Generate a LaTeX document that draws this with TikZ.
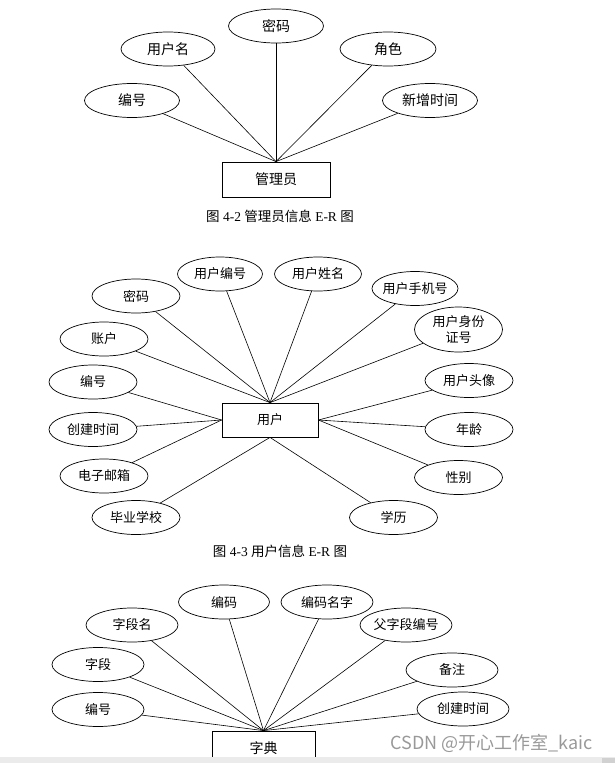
\documentclass[tikz,border=0pt]{standalone}
\usepackage{fontspec}
\setmainfont{Liberation Serif}
\newfontfamily\cjk{Noto Sans CJK SC}
\usetikzlibrary{shapes.geometric}

\begin{document}
\begin{tikzpicture}[
    x=1pt, y=-1pt,
    attr/.style={
        ellipse, draw, line width=0.7pt, inner xsep=-4pt, inner ysep=0pt,
        text centered, minimum width=88pt, minimum height=34pt,
        font=\cjk\fontsize{13}{16}\selectfont
    },
    ent/.style={
        rectangle, draw, line width=0.8pt,
        text centered, minimum width=100pt, minimum height=35pt,
        font=\cjk\fontsize{14}{16}\selectfont
    },
    figcap/.style={font=\fontsize{13.5}{16}\selectfont},
    link/.style={line width=0.6pt},
]
\useasboundingbox (0,0) rectangle (615,763);

\node[ent, minimum width=108pt] (gly) at (276,179.5) {管理员};
\node[attr, minimum width=95pt, font=\cjk\fontsize{14}{16}\selectfont] (mm1) at (276,26) {密码};
\node[attr, minimum width=94pt, font=\cjk\fontsize{14}{16}\selectfont] (yhm1) at (168,49) {用户名};
\node[attr, minimum width=96pt, font=\cjk\fontsize{14}{16}\selectfont] (js1) at (388,49) {角色};
\node[attr, minimum width=95pt, font=\cjk\fontsize{14}{16}\selectfont] (bh1) at (132,100.5) {编号};
\node[attr, minimum width=95pt, font=\cjk\fontsize{14}{16}\selectfont] (xzsj1) at (430,100.5) {新增时间};
\node[figcap] (cap1) at (280,216) {{\cjk 图} 4-2 {\cjk 管理员信息} E-R {\cjk 图}};
\draw[link] (bh1) -- (gly.north);
\draw[link] (yhm1) -- (gly.north);
\draw[link] (mm1) -- (gly.north);
\draw[link] (js1) -- (gly.north);
\draw[link] (xzsj1) -- (gly.north);

\node[ent, minimum width=96pt, minimum height=34pt, font=\cjk\fontsize{13}{16}\selectfont] (yh) at (270,420) {用户};
\node[attr, minimum width=85pt] (yhbh2) at (220,274) {用户编号};
\node[attr, minimum width=87pt] (yhxm2) at (318,274) {用户姓名};
\node[attr] (mm2) at (136,296) {密码};
\node[attr] (zh2) at (104,339) {账户};
\node[attr] (bh2) at (93,382) {编号};
\node[attr] (cjsj2) at (93,429.5) {创建时间};
\node[attr] (dzyx2) at (104,476) {电子邮箱};
\node[attr] (byxx2) at (136,517.5) {毕业学校};
\node[attr, minimum width=86pt] (yhsjh2) at (415,288.5) {用户手机号};
\node[attr, minimum height=45pt, align=center] (yhsfzh2) at (458.5,329.5) {用户身份\\证号};
\node[attr] (yhtx2) at (469,380.5) {用户头像};
\node[attr] (nl2) at (469,429.5) {年龄};
\node[attr] (xb2) at (458.5,477.5) {性别};
\node[attr] (xl2) at (393.5,517.5) {学历};
\node[figcap] (cap2) at (280,551) {{\cjk 图} 4-3 {\cjk 用户信息} E-R {\cjk 图}};
\draw[link] (mm2) -- (yh.north);
\draw[link] (zh2) -- (yh.north);
\draw[link] (yhbh2) -- (yh.north);
\draw[link] (yhxm2) -- (yh.north);
\draw[link] (yhsjh2) -- (yh.north);
\draw[link] (yhsfzh2) -- (yh.north);
\draw[link] (bh2) -- (yh.west);
\draw[link] (cjsj2) -- (yh.west);
\draw[link] (dzyx2) -- (yh.west);
\draw[link] (byxx2) -- (yh.south);
\draw[link] (xl2) -- (yh.south);
\draw[link] (yhtx2) -- (yh.east);
\draw[link] (nl2) -- (yh.east);
\draw[link] (xb2) -- (yh.east);

\node[ent, minimum width=103pt] (zd) at (263.5,748.5) {字典};
\node[attr, minimum width=91pt] (bm3) at (224,602) {编码};
\node[attr, minimum width=92pt] (bmmz3) at (327,602) {编码名字};
\node[attr, minimum width=92pt] (zdm3) at (132,625) {字段名};
\node[attr, minimum width=92pt] (zd3) at (98,664.5) {字段};
\node[attr, minimum width=92pt] (bh3) at (98,709.5) {编号};
\node[attr, minimum width=92pt] (fzdbh3) at (406,625) {父字段编号};
\node[attr, minimum width=92pt] (bz3) at (452,670) {备注};
\node[attr, minimum width=92pt] (cjsj3) at (463,709) {创建时间};
\draw[link] (bh3) -- (zd.north);
\draw[link] (zd3) -- (zd.north);
\draw[link] (zdm3) -- (zd.north);
\draw[link] (bm3) -- (zd.north);
\draw[link] (bmmz3) -- (zd.north);
\draw[link] (fzdbh3) -- (zd.north);
\draw[link] (bz3) -- (zd.north);
\draw[link] (cjsj3) -- (zd.north);

\fill[black!8] (0,757) rectangle (615,763);
\fill[black!18] (602,758) rectangle (615,763);
\node[text=black!40, font=\cjk\fontsize{18}{20}\selectfont] (wm) at (491.5,743.5) {CSDN @开心工作室\_kaic};
\end{tikzpicture}
\end{document}
